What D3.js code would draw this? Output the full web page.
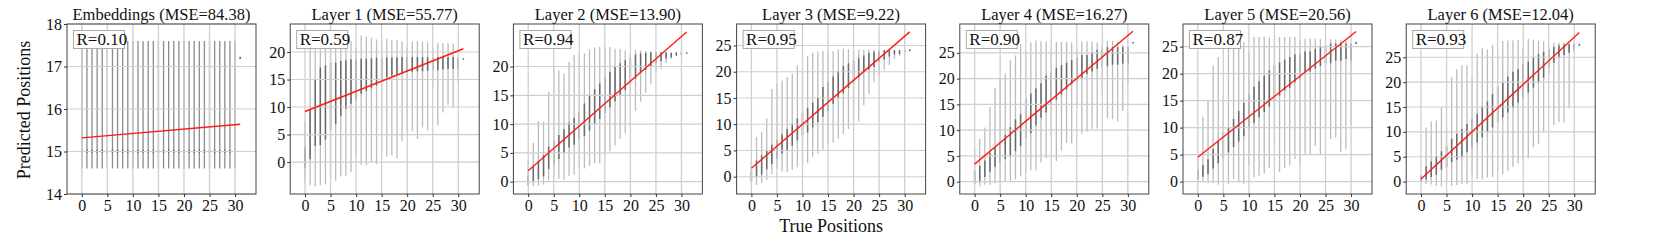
<!DOCTYPE html>
<meta charset="utf-8">
<style>
body { margin: 0; background: #fff; }
text { font-family: "Liberation Serif", "DejaVu Serif", serif; fill: #111; }
.tick text { font-size: 16px; }
.tick line { stroke: #333; }
.title { font-size: 16.5px; }
.rlabel { font-size: 17px; }
.axislabel { font-size: 18px; }
</style>
<body>
<script src="https://cdn.jsdelivr.net/npm/d3@7"></script>
<script>

var width = 1661,
    height = 243;

// panel titles and numbers
var titles = ["Embeddings", "Layer 1", "Layer 2", "Layer 3", "Layer 4", "Layer 5", "Layer 6"];
var mse = ["84.38", "55.77", "13.90", "9.22", "16.27", "20.56", "12.04"];
var rValues = ["0.10", "0.59", "0.94", "0.95", "0.90", "0.87", "0.93"];

var positions = [0, 1, 2, 3, 4, 5, 6, 7, 8, 9, 10, 11, 12, 13, 14, 15,
                 16, 17, 18, 19, 20, 21, 22, 23, 24, 25, 26, 27, 28, 29, 30, 31];

var xTicks = [0, 5, 10, 15, 20, 25, 30];
var yTicks = [
  [14, 15, 16, 17, 18],
  [0, 5, 10, 15, 20],
  [0, 5, 10, 15, 20],
  [0, 5, 10, 15, 20, 25],
  [0, 5, 10, 15, 20, 25],
  [0, 5, 10, 15, 20, 25],
  [0, 5, 10, 15, 20, 25]
];
var yDomains = [[14, 18], [-5.8, 25.1], [-2.15, 27.4], [-3.3, 29.1], [-2.4, 30.6], [-2.3, 29.2], [-2.5, 31.7]];

// regression line, predicted value at position 0 and at position 31
var fitStart = [15.32, 9.2, 1.9, 1.6, 3.4, 4.5, 0.5];
var fitEnd = [15.64, 20.6, 26.0, 27.6, 29.2, 27.8, 30.0];

// per position: [min, dense low, dense high, max]
var embeddings = [
  [14.6, 14.98, 15.03, 17.6], [14.6, 14.98, 15.03, 17.6], [14.6, 14.98, 15.03, 17.6], [14.6, 14.98, 15.03, 17.6],
  [14.6, 14.98, 15.03, 17.6], [14.6, 14.98, 15.03, 17.6], [14.6, 14.98, 15.03, 17.6], [14.6, 14.98, 15.03, 17.6],
  [14.6, 14.98, 15.03, 17.6], [14.6, 14.98, 15.03, 17.6], [14.6, 14.98, 15.03, 17.6], [14.6, 14.98, 15.03, 17.6],
  [14.6, 14.98, 15.03, 17.6], [14.6, 14.98, 15.03, 17.6], [14.6, 14.98, 15.03, 17.6], [14.6, 14.98, 15.03, 17.6],
  [14.6, 14.98, 15.03, 17.6], [14.6, 14.98, 15.03, 17.6], [14.6, 14.98, 15.03, 17.6], [14.6, 14.98, 15.03, 17.6],
  [14.6, 14.98, 15.03, 17.6], [14.6, 14.98, 15.03, 17.6], [14.6, 14.98, 15.03, 17.6], [14.6, 14.98, 15.03, 17.6],
  [14.6, 14.98, 15.03, 17.6], [14.6, 14.98, 15.03, 17.6], [14.6, 14.98, 15.03, 17.6], [14.6, 14.98, 15.03, 17.6],
  [14.6, 14.98, 15.03, 17.6], [14.6, 14.98, 15.03, 17.6], [14.6, 14.98, 15.03, 17.6], [17.19, 17.19, 17.22, 17.22]
];
var layer1 = [
  [-3.8, -1.0, 2.6, 7.4], [-4.2, 0.6, 9.5, 20.7], [-4.4, 3.0, 15.0, 20.5], [-4.2, 3.2, 17.1, 20.5],
  [-4.0, 4.2, 17.5, 20.7], [-3.0, 6.0, 18.0, 20.7], [-3.4, 7.0, 18.0, 22.5], [-2.6, 8.5, 18.3, 22.4],
  [-2.5, 9.8, 18.4, 22.0], [-1.8, 10.7, 18.6, 22.0], [1.4, 11.5, 18.6, 20.8], [-0.5, 12.5, 18.7, 23.0],
  [-0.6, 13.0, 18.7, 22.8], [0.0, 13.5, 18.8, 22.6], [-0.4, 14.0, 18.9, 22.3], [1.5, 15.0, 18.9, 22.0],
  [1.0, 15.5, 18.9, 22.4], [1.3, 15.8, 18.9, 22.2], [0.7, 16.0, 18.9, 22.2], [3.8, 16.3, 19.0, 21.9],
  [5.5, 16.5, 19.0, 20.8], [5.6, 16.5, 19.0, 21.9], [4.2, 16.6, 19.0, 22.0], [6.3, 16.6, 19.0, 21.9],
  [5.8, 16.7, 19.0, 21.8], [13.5, 16.8, 19.0, 20.6], [6.7, 16.8, 19.0, 21.6], [9.0, 16.9, 19.0, 21.6],
  [10.4, 17.0, 19.0, 21.6], [9.8, 17.0, 19.0, 21.5], [14.5, 17.0, 18.8, 18.8], [18.7, 18.7, 18.8, 18.8]
];
var layer2 = [
  [-0.6, -0.5, 1.0, 3.7], [-0.8, 0.0, 2.5, 6.7], [-0.7, 0.5, 3.5, 10.5], [-0.5, 1.0, 4.5, 10.4],
  [0.2, 2.3, 6.0, 15.6], [0.8, 3.0, 7.0, 19.6], [0.5, 4.0, 8.0, 19.3], [0.3, 5.0, 9.0, 18.8],
  [1.0, 6.0, 10.2, 20.8], [1.2, 6.5, 11.0, 22.0], [2.5, 7.5, 12.0, 22.0], [2.3, 8.0, 13.5, 22.3],
  [2.7, 9.0, 15.0, 23.0], [3.2, 10.0, 16.0, 23.3], [3.2, 11.0, 17.0, 23.4], [4.5, 12.0, 18.0, 23.3],
  [5.3, 13.0, 19.0, 23.4], [6.3, 14.0, 20.0, 23.1], [7.4, 15.0, 20.5, 23.0], [8.4, 16.0, 21.0, 22.8],
  [9.4, 17.0, 21.5, 22.3], [12.3, 18.0, 22.0, 22.9], [13.9, 19.0, 22.2, 22.8], [15.4, 19.5, 22.3, 22.7],
  [17.0, 20.0, 22.4, 22.6], [19.0, 20.7, 22.4, 22.5], [19.6, 21.0, 22.4, 22.5], [20.6, 21.5, 22.4, 22.4],
  [21.3, 21.7, 22.3, 22.3], [21.8, 22.0, 22.4, 22.4], [22.0, 22.1, 22.4, 22.4], [22.3, 22.3, 22.4, 22.4]
];
var layer3 = [
  [-1.2, -0.8, 1.0, 2.8], [-1.6, 0.0, 3.0, 7.6], [-1.2, 0.5, 4.0, 8.5], [-0.6, 1.5, 5.0, 11.1],
  [0.5, 2.5, 6.0, 16.7], [1.5, 3.5, 7.0, 17.8], [1.0, 4.5, 8.0, 18.3], [0.9, 5.0, 9.0, 19.0],
  [1.3, 6.0, 10.0, 19.6], [1.8, 7.0, 11.0, 21.2], [2.4, 8.0, 12.0, 20.1], [2.6, 8.5, 13.0, 23.0],
  [3.8, 9.5, 14.0, 23.6], [4.4, 10.5, 15.0, 23.8], [5.2, 11.5, 17.0, 23.9], [6.2, 12.5, 18.0, 23.8],
  [6.5, 14.0, 19.0, 23.9], [7.3, 15.0, 20.0, 24.2], [8.1, 16.0, 21.0, 24.4], [9.1, 17.0, 21.5, 24.3],
  [11.0, 18.0, 22.0, 24.0], [10.5, 19.0, 22.5, 24.2], [13.6, 20.0, 23.0, 24.2], [15.8, 20.5, 23.5, 24.2],
  [18.0, 21.0, 23.7, 24.2], [19.2, 22.0, 23.8, 24.2], [20.4, 22.5, 24.0, 24.1], [21.3, 23.0, 24.0, 24.1],
  [22.5, 23.4, 24.0, 24.1], [23.0, 23.5, 24.0, 24.1], [23.6, 23.8, 24.0, 24.1], [24.0, 24.0, 24.2, 24.2]
];
var layer4 = [
  [-0.6, -0.3, 2.0, 6.5], [-0.9, 0.0, 3.0, 8.3], [-0.6, 1.0, 4.0, 10.5], [-0.6, 2.0, 5.5, 14.5],
  [-0.3, 3.0, 6.5, 18.2], [-0.2, 3.8, 7.5, 20.0], [0.0, 4.5, 9.0, 21.0], [0.0, 5.0, 10.5, 23.6],
  [0.4, 6.0, 12.0, 24.5], [1.0, 7.0, 13.0, 26.7], [2.0, 8.5, 16.0, 25.5], [2.2, 9.5, 17.0, 27.0],
  [2.2, 11.0, 18.0, 27.4], [3.7, 12.5, 19.0, 27.2], [4.5, 13.5, 20.5, 27.2], [9.0, 15.0, 21.0, 26.0],
  [4.0, 16.0, 22.0, 27.1], [6.0, 17.0, 22.5, 27.1], [7.5, 18.0, 23.0, 27.2], [7.4, 19.0, 23.5, 27.0],
  [14.5, 19.5, 24.0, 26.0], [9.3, 20.0, 24.5, 27.2], [9.7, 21.0, 24.5, 27.2], [10.2, 21.5, 25.0, 27.2],
  [10.3, 22.0, 25.5, 27.0], [17.0, 22.5, 25.5, 26.5], [12.3, 22.5, 26.0, 27.3], [12.1, 22.8, 26.0, 27.3],
  [11.7, 22.8, 26.0, 27.1], [13.7, 23.0, 26.0, 26.5], [19.0, 23.0, 26.0, 26.3], [26.9, 26.9, 27.0, 27.0]
];
var layer5 = [
  [0.4, 0.5, 2.0, 4.3], [0.0, 1.0, 3.0, 12.0], [-0.3, 1.5, 4.0, 15.0], [-0.3, 2.5, 6.0, 21.5],
  [-0.6, 3.5, 7.5, 23.1], [0.0, 4.5, 9.0, 16.0], [-0.5, 5.5, 10.0, 25.5], [0.5, 6.5, 11.5, 25.5],
  [-0.2, 7.5, 13.0, 25.5], [-0.4, 8.5, 14.5, 25.8], [3.0, 10.0, 16.0, 24.0], [0.8, 11.0, 17.5, 26.8],
  [1.0, 12.0, 18.5, 26.8], [1.5, 13.0, 19.5, 26.9], [2.5, 14.0, 20.5, 26.7], [7.0, 15.0, 21.5, 26.5],
  [1.8, 16.0, 22.0, 26.8], [2.5, 17.0, 22.5, 26.8], [3.0, 17.5, 23.0, 26.8], [4.2, 18.5, 23.5, 26.8],
  [3.5, 19.0, 23.5, 26.2], [5.0, 20.0, 24.0, 26.5], [5.0, 20.5, 24.0, 26.5], [6.6, 21.0, 24.5, 26.5],
  [5.0, 21.5, 25.0, 26.4], [10.0, 22.0, 25.0, 25.5], [7.9, 22.0, 25.5, 26.4], [8.2, 22.5, 25.5, 26.3],
  [5.5, 22.5, 25.5, 26.3], [6.0, 22.8, 25.5, 26.1], [10.5, 22.5, 25.5, 25.5], [25.6, 25.6, 25.8, 25.8]
];
var layer6 = [
  [0.0, 0.0, 1.0, 1.2], [-0.5, 0.5, 3.0, 10.9], [-0.6, 1.0, 4.0, 12.1], [-0.9, 1.5, 5.0, 12.3],
  [-1.0, 2.5, 6.0, 14.9], [0.0, 3.0, 7.0, 11.0], [-0.9, 4.0, 8.5, 21.0], [-0.7, 4.5, 9.5, 22.6],
  [-0.5, 5.0, 10.5, 23.4], [-0.6, 6.0, 11.5, 23.4], [1.5, 7.0, 12.5, 21.0], [0.5, 8.0, 13.5, 25.7],
  [0.4, 9.0, 15.0, 26.8], [0.8, 10.0, 16.0, 26.6], [0.9, 11.0, 17.5, 27.5], [2.0, 12.0, 19.0, 26.5],
  [1.4, 13.0, 20.0, 28.3], [2.2, 14.0, 21.0, 28.4], [3.0, 15.0, 22.0, 28.4], [3.6, 16.0, 22.5, 28.5],
  [4.3, 17.0, 23.5, 27.0], [4.7, 18.0, 24.0, 28.7], [6.9, 19.0, 25.0, 28.5], [7.5, 20.0, 25.5, 28.4],
  [9.9, 21.0, 26.0, 28.2], [21.5, 23.0, 26.5, 27.0], [11.4, 24.0, 27.0, 28.0], [12.0, 25.0, 27.3, 28.0],
  [11.9, 25.5, 27.5, 28.0], [14.7, 26.0, 27.6, 27.8], [26.0, 26.5, 27.6, 27.8], [27.4, 27.4, 27.6, 27.6]
];
var panels = [embeddings, layer1, layer2, layer3, layer4, layer5, layer6];

var panelLeft = 67, panelStep = 223.2, panelW = 189, panelTop = 24, panelH = 170;

var svg = d3.select("body").append("svg")
    .attr("width", width)
    .attr("height", height);

svg.append("rect").attr("width", width).attr("height", height).attr("fill", "#fff");

panels.forEach(function(data, k) {
  var left = panelLeft + k * panelStep;
  var x = d3.scaleLinear().domain([-2.9, 34.1]).range([left, left + panelW]);
  var y = d3.scaleLinear().domain(yDomains[k]).range([panelTop + panelH, panelTop]);

  var g = svg.append("g");

  // full range, light
  g.selectAll(".range").data(data).enter().append("line")
      .attr("x1", function(d, i) { return x(positions[i]); })
      .attr("x2", function(d, i) { return x(positions[i]); })
      .attr("y1", function(d) { return y(d[0]); })
      .attr("y2", function(d) { return y(d[3]); })
      .attr("stroke", k == 0 ? "#8c8c8c" : "#bcbcbc")
      .attr("stroke-width", 1.3);

  // dense part, dark
  g.selectAll(".dense").data(data).enter().append("line")
      .attr("x1", function(d, i) { return x(positions[i]); })
      .attr("x2", function(d, i) { return x(positions[i]); })
      .attr("y1", function(d) { return y(d[1]) + 0.5; })
      .attr("y2", function(d) { return y(d[2]) - 0.5; })
      .attr("stroke", "#6a6a6a")
      .attr("stroke-width", 1.5);

  // grid (drawn over the data)
  g.selectAll(".gx").data(xTicks).enter().append("line")
      .attr("x1", function(d) { return x(d); }).attr("x2", function(d) { return x(d); })
      .attr("y1", panelTop).attr("y2", panelTop + panelH)
      .attr("stroke", "#cfcfcf").attr("stroke-width", 1.3);
  g.selectAll(".gy").data(yTicks[k]).enter().append("line")
      .attr("y1", function(d) { return y(d); }).attr("y2", function(d) { return y(d); })
      .attr("x1", left).attr("x2", left + panelW)
      .attr("stroke", "#cfcfcf").attr("stroke-width", 1.1);

  // fitted line
  g.append("line")
      .attr("x1", x(positions[0])).attr("y1", y(fitStart[k]))
      .attr("x2", x(positions[31])).attr("y2", y(fitEnd[k]))
      .attr("stroke", "#ff1a1a").attr("stroke-width", 1.4);

  // frame
  g.append("rect")
      .attr("x", left).attr("y", panelTop)
      .attr("width", panelW).attr("height", panelH)
      .attr("fill", "none").attr("stroke", "#444").attr("stroke-width", 1);

  g.append("g")
      .attr("transform", "translate(0," + (panelTop + panelH) + ")")
      .call(d3.axisBottom(x).tickValues(xTicks).tickSize(3).tickPadding(3).tickFormat(d3.format("d")))
      .call(function(a) { a.select(".domain").remove(); });

  g.append("g")
      .attr("transform", "translate(" + left + ",0)")
      .call(d3.axisLeft(y).tickValues(yTicks[k]).tickSize(3).tickPadding(2).tickFormat(d3.format("d")))
      .call(function(a) { a.select(".domain").remove(); });

  g.append("text")
      .attr("class", "title")
      .attr("x", left + panelW / 2)
      .attr("y", 20)
      .attr("text-anchor", "middle")
      .text(titles[k] + " (MSE=" + mse[k] + ")");

  // R box
  g.append("rect")
      .attr("x", left + 6.5).attr("y", panelTop + 6.5)
      .attr("width", 51).attr("height", 18)
      .attr("fill", "#fff").attr("stroke", "#aaa");
  g.append("text")
      .attr("class", "rlabel")
      .attr("x", left + 9.5)
      .attr("y", panelTop + 21)
      .text("R=" + rValues[k]);
});

svg.selectAll(".tick text").attr("fill", "#111");

svg.append("text")
    .attr("class", "axislabel")
    .attr("transform", "translate(30,110) rotate(-90)")
    .attr("text-anchor", "middle")
    .text("Predicted Positions");

svg.append("text")
    .attr("class", "axislabel")
    .attr("x", panelLeft + 3 * panelStep + panelW / 2)
    .attr("y", 232)
    .attr("text-anchor", "middle")
    .text("True Positions");

</script>
</body>
